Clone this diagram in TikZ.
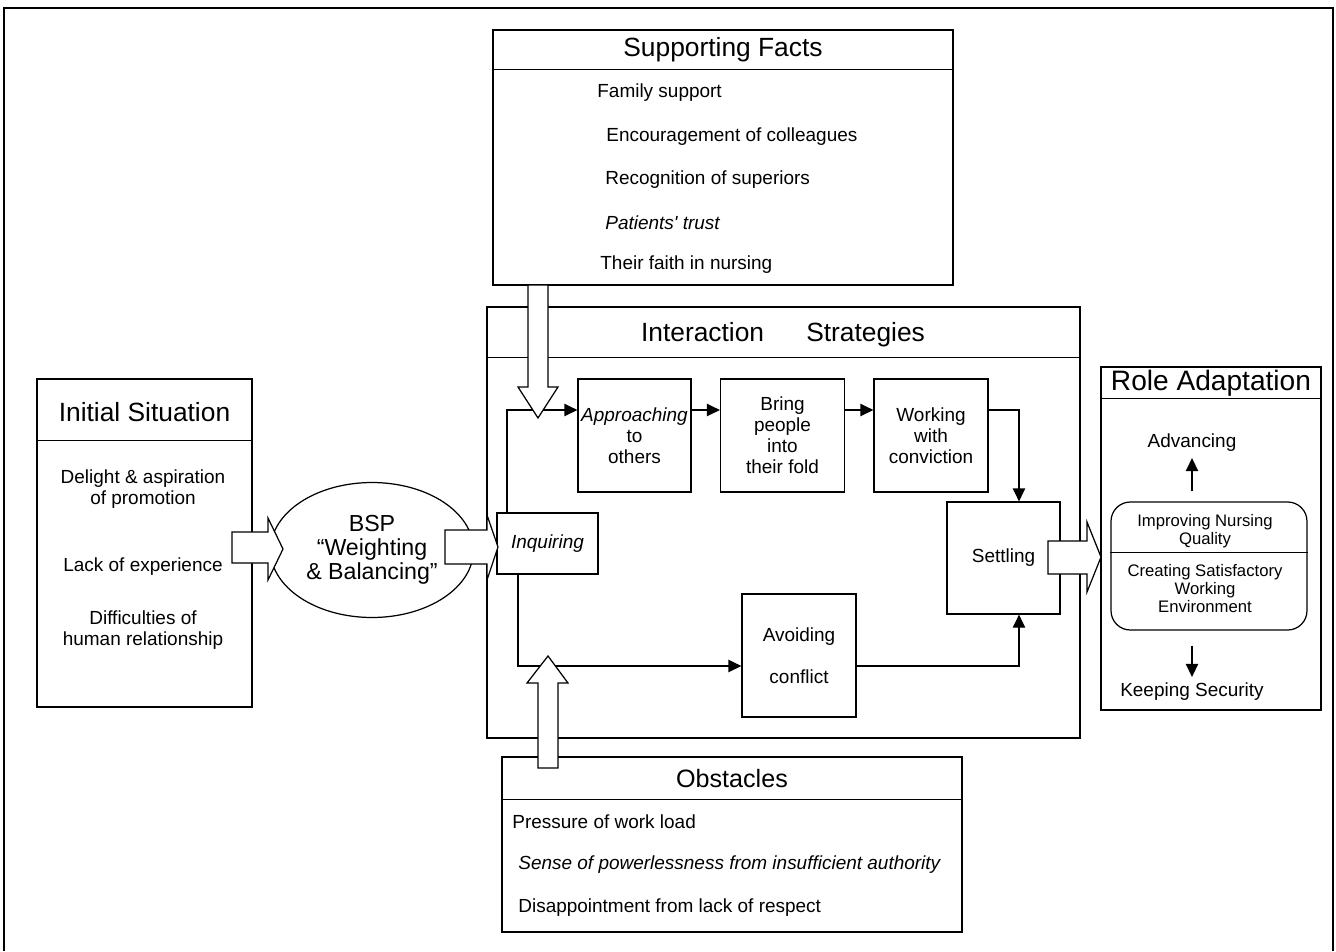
\documentclass[tikz,border=0pt]{standalone}
\usepackage{fontspec}
\setmainfont{Liberation Sans}
\usepackage{tikz}
\usetikzlibrary{positioning, arrows.meta, shapes.geometric, fit}
\newcommand{\itemsize}{\fontsize{10.8}{12}\selectfont}
\newcommand{\headsize}{\fontsize{15}{18}\selectfont}
\newcommand{\bspsize}{\fontsize{13.2}{13.8}\selectfont}
\newcommand{\smallsize}{\fontsize{9.5}{10.4}\selectfont}

\begin{document}
\begin{tikzpicture}[
    x=0.02cm, y=-0.02cm,
    box/.style={draw, line width=0.7pt, inner sep=0pt},
    stepbox/.style={box, align=center, font=\itemsize},
    head/.style={font=\headsize},
    fact/.style={font=\itemsize, anchor=west, inner sep=0pt},
    flow/.style={-{Triangle[length=7.4pt, width=7pt]}, line width=0.7pt},
    hollow/.style={draw, fill=white, line width=0.7pt, line join=miter}
]
\useasboundingbox (0,0) rectangle (1336,951);

% Outer frame, open at the bottom
\draw[line width=0.7pt] (4,951) -- (4,8) -- (1333,8) -- (1333,951);

% Supporting facts
\node[box, fit={(493,30) (953,285)}] (sf) {};
\draw[line width=0.7pt] (sf.north west) ++(0,40) coordinate (sfcut) -- (sfcut -| sf.east);
\node[head] (sftitle) at (723,50) {Supporting Facts};
\node[fact] (fam) at (597,93) {Family support};
\node[fact] (enc) at (606,137) {Encouragement of colleagues};
\node[fact] (rec) at (605,180) {Recognition of superiors};
\node[fact] (pat) at (605,223) {\itshape Patients\textquotesingle\ trust};
\node[fact] (fai) at (600,265) {Their faith in nursing};

% Interaction strategies
\node[box, fit={(487,307) (1080,738)}] (inter) {};
\draw[line width=0.7pt] (inter.north west) ++(0,51) coordinate (intcut) -- (intcut -| inter.east);
\node[head] (inttitle) at (783,335) {Interaction\hspace{24pt}Strategies};

\node[stepbox, minimum width=2.02cm, minimum height=1.22cm] (inq) at (547.5,543.5) {\itshape Inquiring};
\node[stepbox, minimum width=2.26cm, minimum height=2.26cm] (appr) at (634.5,435.5) {\textit{Approaching}\\to\\others};
\node[stepbox, minimum width=2.48cm, minimum height=2.26cm] (bring) at (782.5,435.5) {Bring\\people\\into\\their fold};
\node[stepbox, minimum width=2.28cm, minimum height=2.26cm] (work) at (931,435.5) {Working\\with\\conviction};
\node[stepbox, minimum width=2.26cm, minimum height=2.24cm] (settle) at (1003.5,558) {Settling};
\node[stepbox, minimum width=2.28cm, minimum height=2.46cm] (avoid) at (799,655.5) {Avoiding\\[12pt]conflict};

\coordinate (rowtop) at (0,410);
\coordinate (rowbot) at (0,666);
\coordinate (upleg) at (507,0);
\coordinate (downleg) at (518,0);
\coordinate (drop) at (1019,0);

\draw[flow] (upleg |- inq.north) |- (appr.west |- rowtop);
\draw[flow] (appr.east |- rowtop) -- (bring.west |- rowtop);
\draw[flow] (bring.east |- rowtop) -- (work.west |- rowtop);
\draw[flow] (work.east |- rowtop) -| (drop |- settle.north);
\draw[flow] (downleg |- inq.south) |- (avoid.west |- rowbot);
\draw[flow] (avoid.east |- rowbot) -| (drop |- settle.south);

% Obstacles
\node[box, fit={(502,757) (962,932)}] (obst) {};
\draw[line width=0.7pt] (obst.north west) ++(0,43) coordinate (obcut) -- (obcut -| obst.east);
\node[font=\fontsize{14.3}{17}\selectfont] (obtitle) at (732,779) {Obstacles};
\node[fact] (ob1) at (512,822) {Pressure of work load};
\node[fact] (ob2) at (518,865) {\itshape Sense of powerlessness from insufficient authority};
\node[fact] (ob3) at (518,908) {Disappointment from lack of respect};

% Initial situation
\node[box, fit={(37,379) (252,707)}] (init) {};
\draw[line width=0.7pt] (init.north west) ++(0,62) coordinate (incut) -- (incut -| init.east);
\node[head] (inittitle) at (144.5,412) {Initial Situation};
\node[font=\itemsize, align=center] (del) at (143,489) {Delight \& aspiration\\of promotion};
\node[font=\itemsize] (lack) at (143,567) {Lack of experience};
\node[font=\itemsize, align=center] (dif) at (143,630) {Difficulties of\\human relationship};

% BSP
\node[ellipse, draw, line width=0.7pt, minimum width=4.06cm, minimum height=2.7cm, inner sep=0pt,
      align=center, font=\bspsize] (bsp) at (372,550) {BSP\\“Weighting\\\& Balancing”};

% Role adaptation
\node[box, fit={(1101,367) (1321,710)}] (role) {};
\draw[line width=0.7pt] (role.north west) ++(0,32) coordinate (rocut) -- (rocut -| role.east);
\node[font=\fontsize{16}{19}\selectfont] (roletitle) at (1211,383) {Role Adaptation};
\node[box, rounded corners=11pt, fit={(1111,502) (1307,630)}] (rbox) {};
\draw[line width=0.7pt] (rbox.north west) ++(0,51) coordinate (rbcut) -- (rbcut -| rbox.east);
\node[font=\smallsize, align=center] (qual) at (1205,531.5) {Improving Nursing\\Quality};
\node[font=\smallsize, align=center] (env) at (1205,588.5) {Creating Satisfactory\\Working\\Environment};
\node[font=\itemsize] (adv) at (1192,443) {Advancing};
\node[font=\itemsize] (keep) at (1192,692) {Keeping Security};
\draw[flow] (rbox.north -| adv) ++(0,-10) -- (adv.south);
\draw[flow] (rbox.south -| keep) ++(0,15) -- (keep.north);

% Block arrows
\draw[hollow] (232,532) -- (268,532) -- (268,518) -- (283,549) -- (268,580) -- (268,563) -- (232,563) -- cycle;
\draw[hollow] (445,530) -- (487,530) -- (487,515) -- (498,547) -- (487,580) -- (487,564) -- (445,564) -- cycle;
\draw[hollow] (1048,541) -- (1087,541) -- (1087,522) -- (1101,557) -- (1087,592) -- (1087,574) -- (1048,574) -- cycle;
\draw[hollow] (528,285) -- (528,387) -- (518,387) -- (538,418) -- (558,387) -- (548,387) -- (548,285) -- cycle;
\draw[hollow] (538,768) -- (538,683) -- (527,683) -- (548,656) -- (568,683) -- (558,683) -- (558,768) -- cycle;

\end{tikzpicture}
\end{document}
